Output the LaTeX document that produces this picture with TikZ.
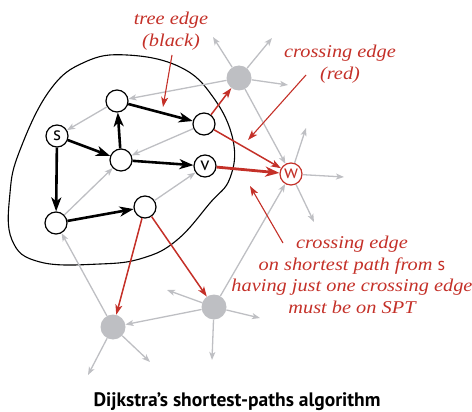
\documentclass[tikz,border=0pt]{standalone}
\usepackage{fontspec}
\setmainfont{Liberation Serif}
\newfontfamily\sansf{PT Sans}
\newfontfamily\labfont{Liberation Serif}[FakeStretch=1.13]
\usetikzlibrary{arrows.meta}
\definecolor{cred}{RGB}{196,48,40}
\definecolor{cgrey}{RGB}{190,191,195}
\begin{document}
\begin{tikzpicture}[x=1pt,y=-1pt,
  vtx/.style={circle,draw=black,line width=1.2pt,fill=white,minimum size=22pt,inner sep=0pt,font=\sansf\fontsize{19}{19}\selectfont},
  rvtx/.style={vtx,draw=cred,text=cred},
  gvtx/.style={circle,fill=cgrey,minimum size=25pt,inner sep=0pt},
  tree/.style={line width=2.6pt,-{Stealth[length=14pt,width=10pt,inset=4pt]}},
  gedge/.style={cgrey,line width=1.3pt,-{Stealth[length=8pt,width=6pt,inset=2pt]}},
  cross/.style={cred,line width=1.5pt,-{Stealth[length=10pt,width=7pt,inset=2.5pt]}},
  bcross/.style={cred,line width=2.8pt,-{Stealth[length=14pt,width=10pt,inset=4pt]}},
  note/.style={cred,line width=1.1pt,-{Stealth[length=10pt,width=7pt,inset=2.5pt]}},
  lab/.style={text=cred,align=center,font=\labfont\itshape\fontsize{18}{21.5}\selectfont},
  captionstyle/.style={font=\sansf\bfseries\fontsize{19.5}{19.5}\selectfont}
]
\useasboundingbox (0,0) rectangle (472,412);
% cut
\draw[line width=1.1pt] plot[smooth cycle,tension=0.7] coordinates {
 (127,55) (180,67) (213,97) (233,140) (230,178) (210,203) (177,240)
 (143,258) (100,264) (40,262) (12,240) (10,193) (20,150) (50,90) (85,62)};
% nodes
\node[vtx] (s) at (57,136) {s};
\node[vtx] (A) at (117,101) {};
\node[vtx] (B) at (204,124) {};
\node[vtx] (C) at (121,160) {};
\node[vtx] (v) at (205,166) {v};
\node[vtx] (D) at (56,223) {};
\node[vtx] (E) at (145,207) {};
\node[rvtx] (w) at (291,174) {w};
\node[gvtx] (G1) at (239,78) {};
\node[gvtx] (G2) at (214,307) {};
\node[gvtx] (G3) at (113,327) {};
% stub ends
\coordinate (g1a) at (213,37);
\coordinate (g1b) at (272,38);
\coordinate (g1c) at (288,85);
\coordinate (wa) at (306,128);
\coordinate (wb) at (344,177);
\coordinate (wc) at (314,222);
\coordinate (g2a) at (167,290);
\coordinate (g2b) at (260,318);
\coordinate (g2c) at (212,360);
\coordinate (g3a) at (88,375);
\coordinate (g3b) at (150,362);
% grey edges
\draw[gedge] (A) -- (s);
\draw[gedge] (B) -- (C);
\draw[gedge] (G1) -- (A);
\draw[gedge] (D) -- (C);
\draw[gedge] (E) -- (v);
\draw[gedge] (G1) -- (w);
\draw[gedge] (G2) -- (w);
\draw[gedge] (G2) -- (G3);
\draw[gedge] (G3) -- (D);
\draw[gedge] (G1) -- (g1a);
\draw[gedge] (G1) -- (g1b);
\draw[gedge] (G1) -- (g1c);
\draw[gedge] (w) -- (wa);
\draw[gedge] (w) -- (wb);
\draw[gedge] (w) -- (wc);
\draw[gedge] (G2) -- (g2a);
\draw[gedge] (G2) -- (g2b);
\draw[gedge] (G2) -- (g2c);
\draw[gedge] (G3) -- (g3a);
\draw[gedge] (G3) -- (g3b);
% tree edges
\draw[tree] (s) -- (C);
\draw[tree] (s) -- (D);
\draw[tree] (C) -- (A);
\draw[tree] (A) -- (B);
\draw[tree] (C) -- (v);
\draw[tree] (D) -- (E);
% crossing edges
\draw[cross] (B) -- (G1);
\draw[cross] (B) -- (w);
\draw[bcross] (v) -- (w);
\draw[cross] (E) -- (G3);
\draw[cross] (E) -- (G2);
% labels
\node[lab] (tl) at (171,31) {tree edge\\(black)};
\node[lab] (cl) at (340,64) {crossing edge\\(red)};
\node[lab] (bl) at (352,275) {crossing edge\\on shortest path from {\sansf\upshape s}\\having just one crossing edge\\must be on SPT};
\coordinate (tls) at (172,55);
\coordinate (tle) at (163,107);
\coordinate (cls) at (306,75);
\coordinate (cle) at (248,140);
\coordinate (bls) at (283,243);
\coordinate (ble) at (250,186);
\draw[note] (tls) -- (tle);
\draw[note] (cls) -- (cle);
\draw[note] (bls) -- (ble);
\node[captionstyle,anchor=base] (title) at (237,406.5) {Dijkstra’s shortest-paths algorithm};
\end{tikzpicture}
\end{document}
